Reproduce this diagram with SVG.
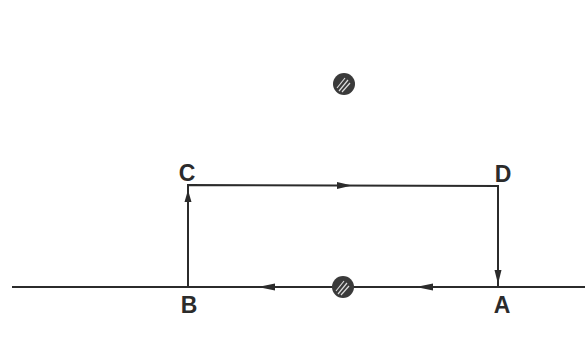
<svg xmlns="http://www.w3.org/2000/svg" width="585" height="353" viewBox="0 0 585 353">
<defs>
<style>
.ln{stroke:#2b2b2b;stroke-width:2;fill:none}
.lbl{font-family:"Liberation Sans",Arial,sans-serif;font-size:23px;font-weight:bold;fill:#2b2b2b;text-anchor:middle}
.ar{fill:#2b2b2b}
.ball{fill:#3a3a3a}
.hatch{stroke:#ddd;stroke-width:1.2}
</style>
</defs>
<rect width="585" height="353" fill="#fff"/>
<g id="connectors">
<line class="ln" x1="12" y1="287" x2="585" y2="287"/>
<polyline class="ln" points="188,287 188,185 498,186 498,287"/>
<polygon class="ar" points="352,185.5 337,182 337,189"/>
<polygon class="ar" points="258,287 275,283.5 275,290.5"/>
<polygon class="ar" points="416,287 433,283.5 433,290.5"/>
<polygon class="ar" points="498,284 494.5,270 501.5,270"/>
<polygon class="ar" points="188,190 184.5,202 191.5,202"/>
</g>
<g id="ball-top">
<circle class="ball" cx="344" cy="84" r="11"/>
<line class="hatch" x1="337" y1="88" x2="345" y2="78"/>
<line class="hatch" x1="339" y1="91" x2="348" y2="80"/>
<line class="hatch" x1="342" y1="92" x2="350" y2="83"/>
</g>
<g id="ball-bottom">
<circle class="ball" cx="343" cy="287" r="11"/>
<line class="hatch" x1="336" y1="291" x2="344" y2="281"/>
<line class="hatch" x1="338" y1="294" x2="347" y2="283"/>
<line class="hatch" x1="341" y1="295" x2="349" y2="286"/>
</g>
<g id="label-C"><text class="lbl" x="187" y="181">C</text></g>
<g id="label-D"><text class="lbl" x="503" y="182">D</text></g>
<g id="label-B"><text class="lbl" x="189" y="313">B</text></g>
<g id="label-A"><text class="lbl" x="502" y="313">A</text></g>
</svg>
